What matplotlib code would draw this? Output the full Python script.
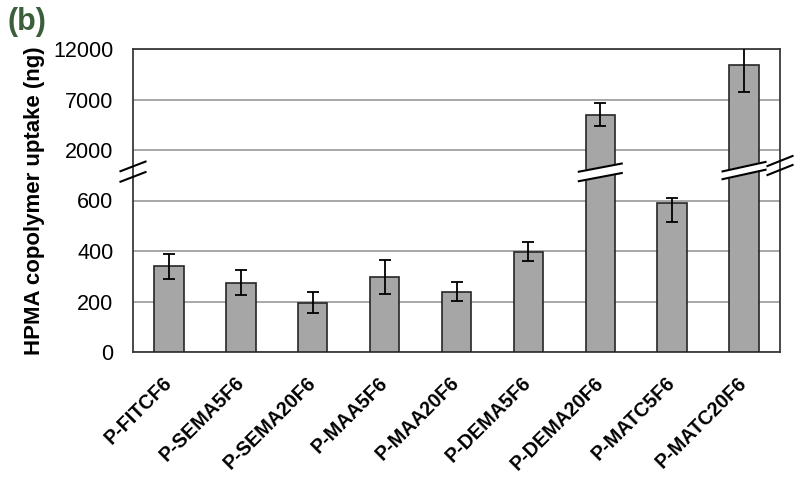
import numpy as np
import matplotlib
matplotlib.use("Agg")
import matplotlib.pyplot as plt

plt.rcParams['font.family'] = ['Liberation Sans', 'DejaVu Sans']

# ---- data ----
categories = ["P-FITCF6", "P-SEMA5F6", "P-SEMA20F6", "P-MAA5F6", "P-MAA20F6",
              "P-DEMA5F6", "P-DEMA20F6", "P-MATC5F6", "P-MATC20F6"]
uptake = [339, 275, 196, 297, 239, 398, 5480, 590, 10420]
uptake_err = [50, 48, 41, 68, 38, 38, 1150, 74, 2650]
yticks = [0, 200, 400, 600, 2000, 7000, 12000]
broken_bars = [6, 8]          # indices of bars crossing the axis break
break_value = 1400            # value inside the break region


# broken axis scale: 0-600 linear, 600-2000 compressed gap, 2000-12000 linear
def fwd(v):
    v = np.asarray(v, dtype=float)
    return np.where(v <= 600, v / 200.0,
                    np.where(v < 2000, 3 + (v - 600) / 1400.0,
                             4 + (v - 2000) / 5000.0))


def inv(y):
    y = np.asarray(y, dtype=float)
    return np.where(y <= 3, y * 200.0,
                    np.where(y < 4, 600 + (y - 3) * 1400.0,
                             2000 + (y - 4) * 5000.0))


W, H = 800, 478
fig = plt.figure(figsize=(W / 100, H / 100), dpi=100)
ax = fig.add_axes([133 / W, 1 - 352 / H, (780 - 133) / W, (352 - 49) / H])
ax.set_yscale('function', functions=(fwd, inv))

x = np.arange(len(categories))
ax.bar(x, uptake, width=0.41, color='#a6a6a6', edgecolor='#262626',
       linewidth=1.2, zorder=3)
ax.errorbar(x, uptake, yerr=uptake_err, fmt='none', ecolor='black',
            elinewidth=1.3, capsize=4, capthick=1.3, zorder=4)

ax.set_xlim(-0.5, len(categories) - 0.5)
ax.set_ylim(0, 12000)
ax.set_yticks(yticks)
ax.set_yticklabels([str(t) for t in yticks], fontsize=15.5)
ax.yaxis.set_minor_locator(matplotlib.ticker.NullLocator())
ax.set_xticks(x)
ax.set_xticklabels(categories, rotation=45, ha='right', va='center',
                   rotation_mode='anchor', fontsize=14.2, fontweight='bold')
ax.tick_params(axis='both', length=0)
ax.tick_params(axis='y', pad=14)
ax.tick_params(axis='x', pad=20)

ax.yaxis.grid(True, color='#a0a0a0', linewidth=1.3)
ax.set_axisbelow(True)
for s in ax.spines.values():
    s.set_color('#3a3a3a')
    s.set_linewidth(1.3)

ax.set_ylabel('HPMA copolymer uptake (ng)', fontsize=16, fontweight='bold')
ax.yaxis.set_label_coords(-0.136, 0.5)

fig.text(0.009, 0.985, '(b)', ha='left', va='top', fontsize=22,
         fontweight='bold', color='#3b5e3b')

# ---- break marks ----
invT = ax.transData.inverted()


def brk(xd, yv, half, slope, gap, fill):
    cx, cy = ax.transData.transform((xd, yv))
    xs = np.array([cx - half, cx + half])
    up = cy + gap / 2 + slope * (xs - cx)
    lo = cy - gap / 2 + slope * (xs - cx)
    if fill:
        poly = np.array([[xs[0], lo[0]], [xs[1], lo[1]], [xs[1], up[1]], [xs[0], up[0]]])
        pd = invT.transform(poly)
        ax.fill(pd[:, 0], pd[:, 1], color='white', zorder=5, clip_on=False)
    for yy in (up, lo):
        pd = invT.transform(np.column_stack([xs, yy]))
        ax.plot(pd[:, 0], pd[:, 1], color='black', lw=1.5, zorder=6,
                clip_on=False, solid_capstyle='butt')


brk(-0.5, break_value, 13.5, 0.385, 10.5, False)
brk(len(categories) - 0.5, 1570, 13.5, 0.4, 9.0, False)
brk(broken_bars[0], 1380, 22.5, 0.19, 9.5, True)
brk(broken_bars[1], 1430, 22.5, 0.22, 7.8, True)

fig.savefig('out.png', dpi=100)
